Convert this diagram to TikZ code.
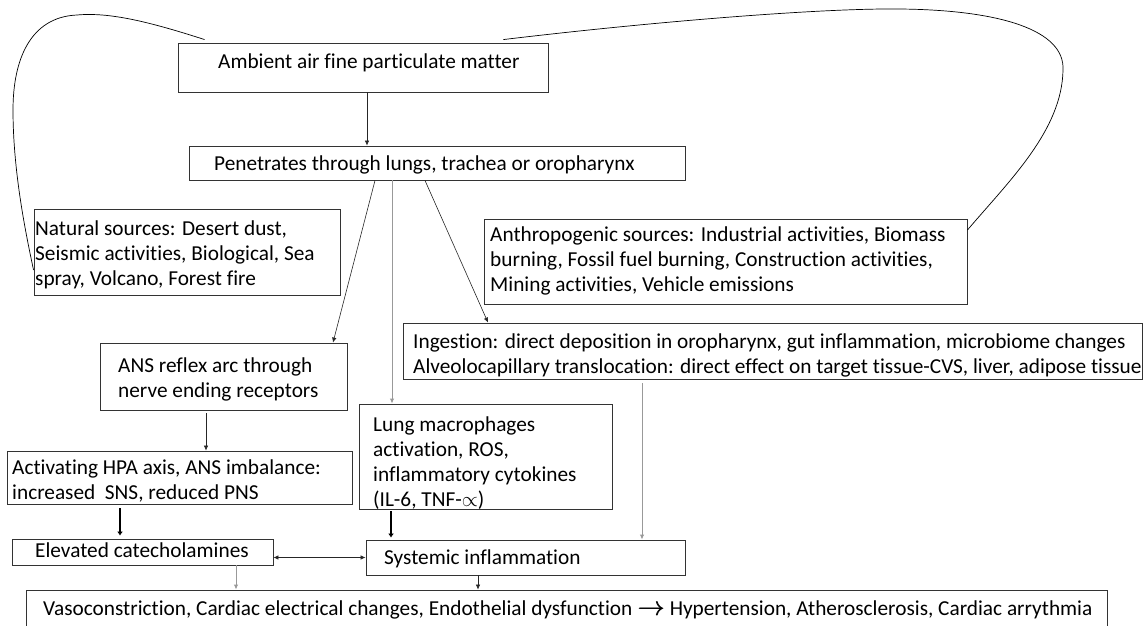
\documentclass[tikz,border=0pt]{standalone}
\usepackage{fontspec}
\setmainfont{Carlito}[Ligatures=NoCommon]
\usetikzlibrary{arrows.meta,calc}
\newcommand{\boldarrow}{\scalebox{1.3}{\rlap{$\rightarrow$}\kern0.5pt$\rightarrow$}}
\tikzset{
  box/.style={draw=black!80, line width=0.9pt, inner sep=0pt},
  txt/.style={inner sep=0pt, align=left, anchor=west, text=black,
    font=\fontsize{21.3}{25}\selectfont},
  arr/.style={draw=black!85, line width=0.6pt, -{Latex[length=5pt,width=4.5pt]}},
  garr/.style={draw=black!40, line width=1pt, -{Latex[length=5pt,width=4.5pt]}},
  thick arr/.style={draw=black, line width=2.6pt, -{Latex[length=4pt,width=6pt]}},
  curve/.style={draw=black, line width=0.7pt},
}
\begin{document}
\begin{tikzpicture}[x=1pt,y=-1pt]
\useasboundingbox (0,0) rectangle (1146,625);
% boxes
\node[box, minimum width=370pt, minimum height=49pt] (amb) at (363,67.5) {};
\node[box, minimum width=496pt, minimum height=34pt] (pen) at (437,163) {};
\node[box, minimum width=306pt, minimum height=86pt] (nat) at (187,252) {};
\node[box, minimum width=483pt, minimum height=85pt] (ant) at (725.5,261.5) {};
\node[box, minimum width=739pt, minimum height=56pt] (ing) at (772.5,351) {};
\node[box, minimum width=247pt, minimum height=67pt] (ans) at (223.5,376.5) {};
\node[box, minimum width=253pt, minimum height=105pt] (lung) at (485.5,456.5) {};
\node[box, minimum width=345pt, minimum height=53pt] (hpa) at (179.5,477.5) {};
\node[box, minimum width=261pt, minimum height=26pt] (ele) at (142.5,552) {};
\node[box, minimum width=319pt, minimum height=35pt] (sys) at (525.5,557.5) {};
\node[box, minimum width=1081pt, minimum height=44pt] (bot) at (566.5,612) {};
% texts
\node[txt] (ambT) at (218,63) {Ambient air fine particulate matter};
\node[txt] (penT) at (214,164.5) {Penetrates through lungs, trachea or oropharynx};
\node[txt] (natT) at (35,254.5) {Natural sources: Desert dust,\\Seismic activities, Biological, Sea\\spray, Volcano, Forest fire};
\node[txt] (antT) at (490,260.5) {Anthropogenic sources: Industrial activities, Biomass\\burning, Fossil fuel burning, Construction activities,\\Mining activities, Vehicle emissions};
\node[txt] (ingT) at (413,355.5) {Ingestion: direct deposition in oropharynx, gut inflammation, microbiome changes\\Alveolocapillary translocation: direct effect on target tissue-CVS, liver, adipose tissue};
\node[txt] (ansT) at (118,379) {ANS reflex arc through\\nerve ending receptors};
\node[txt] (lungT) at (373,463) {Lung macrophages\\activation, ROS,\\inflammatory cytokines\\(IL-6, TNF-$\propto$)};
\node[txt] (hpaT) at (12,481) {Activating HPA axis, ANS imbalance:\\increased\ \ SNS, reduced PNS};
\node[txt] (eleT) at (35,550) {Elevated catecholamines};
\node[txt] (sysT) at (384,559) {Systemic inflammation};
\node[txt] (botT) at (43,610) {Vasoconstriction, Cardiac electrical changes, Endothelial dysfunction \boldarrow\ Hypertension, Atherosclerosis, Cardiac arrythmia};
% connectors
\draw[arr] ([shift={(4,0)}]amb.south) -- ([shift={(-70,0)}]pen.north);
\draw[arr] ([shift={(-62,0)}]pen.south) -- ([shift={(109.5,0)}]ans.north);
\draw[garr] ([shift={(-45,0)}]pen.south) -- ([shift={(-93.5,0)}]lung.north);
\draw[arr] ([shift={(-12,0)}]pen.south) -- ([shift={(-284.5,0)}]ing.north);
\draw[arr] ([shift={(-17.5,3)}]ans.south) -- ([shift={(26.5,0)}]hpa.north);
\draw[thick arr] ([shift={(-59.5,4)}]hpa.south) -- ([shift={(-22.5,-3)}]ele.north);
\draw[thick arr] ([shift={(-94.5,2)}]lung.south) -- ([shift={(-134.5,-2)}]sys.north);
\draw[garr] ([shift={(-130.5,4)}]ing.south) -- ([shift={(116.5,0)}]sys.north);
\draw[arr, {Latex[length=5pt,width=4.5pt]}-{Latex[length=5pt,width=4.5pt]}] (ele.east |- sys.west) -- (sys.west);
\draw[garr] ([shift={(93.5,0)}]ele.south) -- ([shift={(-330.5,0)}]bot.north);
\draw[arr] ([shift={(-47.5,0)}]sys.south) -- ([shift={(-88.5,0)}]bot.north);
% source curves
\coordinate (l0) at ([shift={(27,-3)}]amb.north west);
\coordinate (l3) at ([shift={(0,18)}]nat.west);
\draw[curve] (l0) .. controls (150,22) and (110,12) .. (77,15)
  .. controls (30,17) and (13,60) .. (13,110)
  .. controls (13,170) and (25,230) .. (l3);
\coordinate (r0) at ([shift={(-45,-3)}]amb.north east);
\coordinate (r3) at ([shift={(0,-31.5)}]ant.east);
\draw[curve] (r0) .. controls (650,22) and (820,8) .. (900,9)
  .. controls (1000,10) and (1065,30) .. (1063,70)
  .. controls (1062,130) and (1010,180) .. (r3);
\end{tikzpicture}
\end{document}
